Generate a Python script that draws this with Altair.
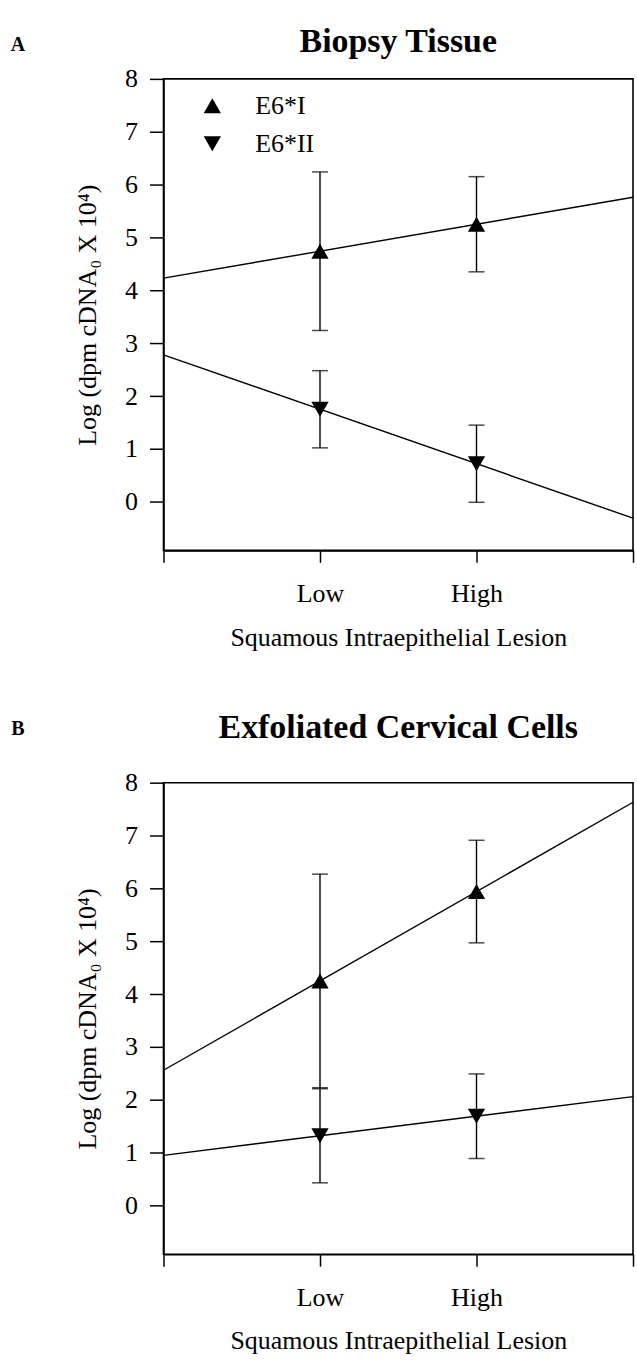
import altair as alt
import pandas as pd

FONT = "Liberation Serif"
PANEL_W = 471
PANEL_H = 473

# Lesion grades placed at x = 1 and x = 2 on a 0..3 axis
levels = ["Low", "High"]
level_pos = [1, 2]
series_names = ["E6*I", "E6*II"]

# A: biopsy tissue, group means and error half-widths
a_e6i_mean = [4.74, 5.25]
a_e6i_err = [1.50, 0.90]
a_e6ii_mean = [1.75, 0.72]
a_e6ii_err = [0.73, 0.73]

# B: exfoliated cervical cells
b_e6i_mean = [4.25, 5.94]
b_e6i_err = [2.02, 0.97]
b_e6ii_mean = [1.32, 1.69]
b_e6ii_err = [0.89, 0.80]

y_ticks = [0, 1, 2, 3, 4, 5, 6, 7, 8]
y_title = "Log (dpm cDNA\u2080 X 10\u2074)"
x_title = "Squamous Intraepithelial Lesion"


def make_frame(i_mean, i_err, ii_mean, ii_err):
    rows = []
    for name, means, errs in [(series_names[0], i_mean, i_err),
                              (series_names[1], ii_mean, ii_err)]:
        for lvl, pos, m, e in zip(levels, level_pos, means, errs):
            rows.append({"level": lvl, "x": pos, "series": name,
                         "mean": m, "lo": m - e, "hi": m + e})
    return pd.DataFrame(rows)


label_expr = " : ".join(
    f"datum.value == {p} ? '{l}'" for p, l in zip(level_pos, levels)
) + " : ''"


def panel(df, title, letter, title_y, letter_y):
    x_enc = alt.X(
        "x:Q",
        scale=alt.Scale(domain=[0, 3], nice=False, zero=False),
        axis=alt.Axis(values=[0, 1, 2, 3], labelExpr=label_expr, title=x_title,
                      tickSize=12, labelPadding=18, titlePadding=18, grid=False,
                      labelFlush=False, labelOverlap=False),
    )
    y_scale = alt.Scale(domain=[-0.92, 8], nice=False, zero=False)
    y_axis = alt.Axis(values=y_ticks, title=y_title, tickSize=14, labelPadding=12,
                      titlePadding=24, grid=False)

    def y(field):
        return alt.Y(f"{field}:Q", scale=y_scale, axis=y_axis)

    base = alt.Chart(df)
    fit = base.transform_regression(
        "x", "mean", groupby=["series"], extent=[0, 3]
    ).mark_line(color="black", strokeWidth=1.4).encode(
        x=x_enc, y=y("mean"), detail="series:N"
    )
    bars = base.mark_rule(color="black", strokeWidth=1.4).encode(
        x=x_enc, y=y("lo"), y2="hi:Q"
    )
    caps_lo = base.mark_tick(color="black", orient="horizontal", size=16,
                             thickness=1.5).encode(x=x_enc, y=y("lo"))
    caps_hi = base.mark_tick(color="black", orient="horizontal", size=16,
                             thickness=1.5).encode(x=x_enc, y=y("hi"))
    pts = base.mark_point(filled=True, size=300, opacity=1, color="black").encode(
        x=x_enc,
        y=y("mean"),
        shape=alt.Shape(
            "series:N",
            scale=alt.Scale(domain=series_names, range=["triangle-up", "triangle-down"]),
            legend=alt.Legend(
                orient="none", legendX=36, legendY=14, title=None,
                labelFont=FONT, labelFontSize=26, labelColor="black",
                symbolSize=300, symbolFillColor="black", symbolStrokeColor="black",
                symbolStrokeWidth=0, symbolOpacity=1, labelOffset=30,
                rowPadding=12, padding=0,
            ),
        ),
    )
    # panel heading and panel letter drawn above the plot frame
    heading = alt.Chart(pd.DataFrame({"t": [title]})).mark_text(
        font=FONT, fontSize=34, fontWeight="bold", align="center",
        baseline="middle", color="black"
    ).encode(text="t:N", x=alt.value(PANEL_W / 2), y=alt.value(title_y))
    tag = alt.Chart(pd.DataFrame({"t": [letter]})).mark_text(
        font=FONT, fontSize=20, fontWeight="bold", align="center",
        baseline="middle", color="black"
    ).encode(text="t:N", x=alt.value(-146), y=alt.value(letter_y))

    return alt.layer(fit, bars, caps_lo, caps_hi, pts, heading, tag).properties(
        width=PANEL_W, height=PANEL_H
    )


df_a = make_frame(a_e6i_mean, a_e6i_err, a_e6ii_mean, a_e6ii_err)
df_b = make_frame(b_e6i_mean, b_e6i_err, b_e6ii_mean, b_e6ii_err)

chart = alt.vconcat(
    panel(df_a, "Biopsy Tissue", "A", -37, -34),
    panel(df_b, "Exfoliated Cervical Cells", "B", -55, -54),
    spacing=59,
).properties(
    padding={"left": 9, "top": 22, "right": 0, "bottom": 0},
    background="white",
).configure_view(
    stroke="black", strokeWidth=1.6
).configure_axis(
    domainColor="black", domainWidth=1.6, tickColor="black", tickWidth=1.5,
    labelColor="black", titleColor="black", labelFont=FONT, titleFont=FONT,
    labelFontSize=26, titleFontSize=26, titleFontWeight="normal",
)

chart.save("out.html", embed_options={"renderer": "svg", "actions": False})
